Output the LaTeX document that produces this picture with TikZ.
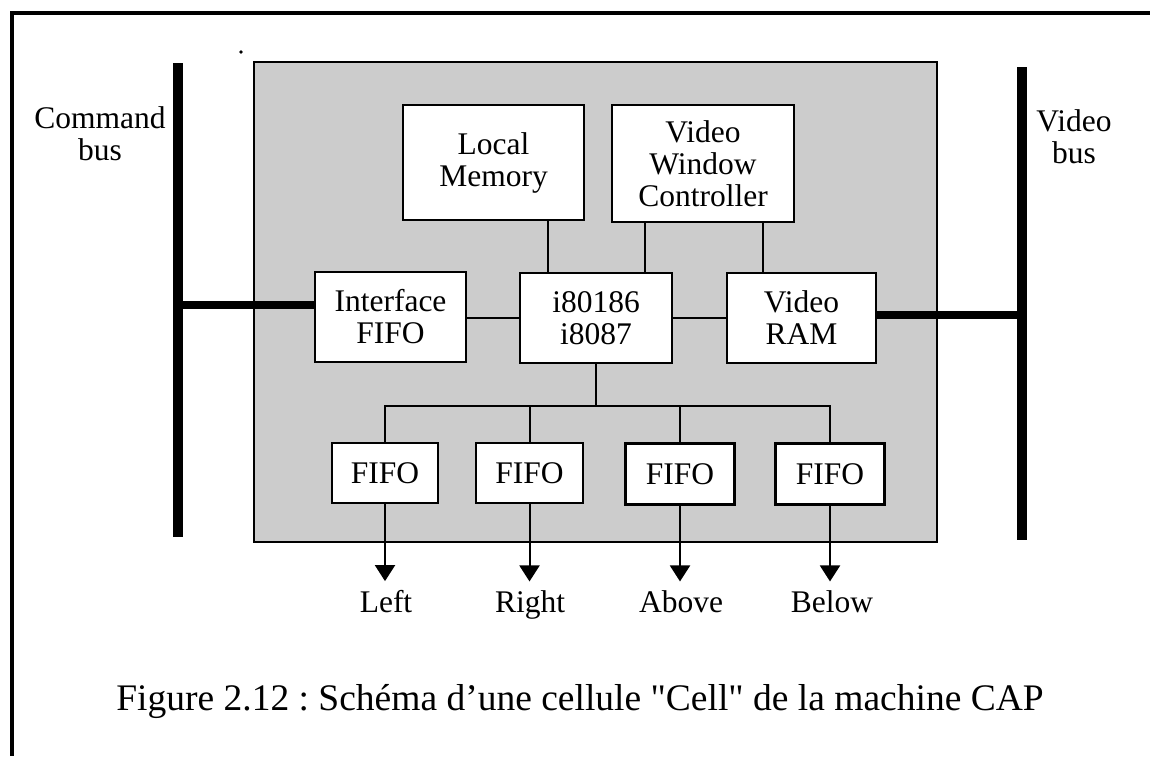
\documentclass[tikz,border=0pt]{standalone}
\usepackage{fontspec}
\setmainfont{Liberation Serif}
\newfontfamily\plainSerif{Liberation Serif}
\usetikzlibrary{arrows.meta,calc}
\newcommand\myBodyFont{\fontsize{31.5}{32}\selectfont}
\newcommand\myCapFont{\plainSerif\fontsize{37.5}{40}\selectfont}
\frenchspacing
\begin{document}
\begin{tikzpicture}[x=1pt,y=-1pt,
  frame/.style={line width=3.5pt,black},
  cellbox/.style={draw=black,line width=1.8pt,fill=black!20,inner sep=0pt},
  box/.style={draw=black,line width=2.2pt,fill=white,inner sep=0pt,align=center,font=\myBodyFont},
  wire/.style={line width=2pt,black},
  bus/.style={line width=10pt,black},
  link/.style={line width=8pt,black},
  arr/.style={line width=2pt,black,-{Triangle[width=20pt,length=16pt]},shorten >=8.5pt},
  lbl/.style={inner sep=0pt,font=\myBodyFont,align=center},
]
\fill[white] (0,0) rectangle (1150,756);
\useasboundingbox (0,0) rectangle (1150,756);

% outer frame (top and left edges)
\coordinate (ftl) at (10,13);
\coordinate (ftr) at (1150,13);
\coordinate (flt) at (12,11);
\coordinate (flb) at (12,756);
\draw[frame] (ftl) -- (ftr);
\draw[frame] (flt) -- (flb);

% small scan dot
\fill (241,52) circle (1.8pt);

% cell area
\node[cellbox,minimum width=683pt,minimum height=480pt] (cell) at (595.5,302) {};

% buses
\coordinate (cbt) at (178,63);
\coordinate (cbb) at (178,537);
\coordinate (vbt) at (1022,67);
\coordinate (vbb) at (1022,540);
\draw[bus] (cbt) -- (cbb);
\draw[bus] (vbt) -- (vbb);
\node[lbl,anchor=north] (cmd) at (100,106.5) {Command\\bus};
\node[lbl,anchor=north] (vid) at (1074,109.5) {Video\\bus};

% boxes
\node[box,minimum width=181pt,minimum height=115pt] (lm) at (493.5,162.5) {Local\\Memory};
\node[box,minimum width=182pt,minimum height=117pt] (vwc) at (703,163.5) {Video\\Window\\Controller};
\node[box,minimum width=151pt,minimum height=90pt] (if) at (390.5,317) {Interface\\FIFO};
\node[box,minimum width=152pt,minimum height=90pt] (cpu) at (596,318) {i80186\\i8087};
\node[box,minimum width=149pt,minimum height=90pt] (vram) at (801.5,318) {Video\\RAM};

\node[box,minimum width=106pt,minimum height=60pt] (f1) at (385,473) {FIFO};
\node[box,minimum width=107pt,minimum height=60pt] (f2) at (529.5,473) {FIFO};
\node[box,minimum width=109pt,minimum height=61pt] (f3) at (680,474) {FIFO};
\node[box,minimum width=109pt,minimum height=61pt] (f4) at (830,474) {FIFO};

% labels below
\node[lbl,anchor=base] (l1) at (386,612) {Left};
\node[lbl,anchor=base] (l2) at (530,612) {Right};
\node[lbl,anchor=base] (l3) at (681,612) {Above};
\node[lbl,anchor=base] (l4) at (832,612) {Below};

% thick links to buses
\coordinate (ifl) at ($(if.west)+(0,-12)$);
\draw[link] (ifl) -- (ifl -| cbt);
\coordinate (vrl) at ($(vram.east)+(0,-3)$);
\draw[link] (vrl) -- (vrl -| vbt);

% thin connectors
\coordinate (xa) at (548,0);
\coordinate (xb) at (645,0);
\coordinate (xc) at (763,0);
\draw[wire] (lm.south -| xa) -- (cpu.north -| xa);
\draw[wire] (vwc.south -| xb) -- (cpu.north -| xb);
\draw[wire] (vwc.south -| xc) -- (vram.north -| xc);
\draw[wire] (if.east |- cpu.west) -- (cpu.west);
\draw[wire] (cpu.east) -- (vram.west);

\coordinate (j) at ($(cpu.south)+(0,42)$);
\draw[wire] (cpu.south) -- (j);
\draw[wire] (f1.north) |- (j) -| (f4.north);
\draw[wire] (f2.north) -- (f2.north |- j);
\draw[wire] (f3.north) -- (f3.north |- j);

% arrows out
\draw[arr] (f1.south) -- (f1.south |- l1.north);
\draw[arr] (f2.south) -- (f2.south |- l2.north);
\draw[arr] (f3.south) -- (f3.south |- l3.north);
\draw[arr] (f4.south) -- (f4.south |- l4.north);

% caption
\node[inner sep=0pt,anchor=base,font=\myCapFont] (cap) at (580,710) {Figure 2.12 : Schéma d’une cellule "Cell" de la machine CAP};
\end{tikzpicture}
\end{document}
